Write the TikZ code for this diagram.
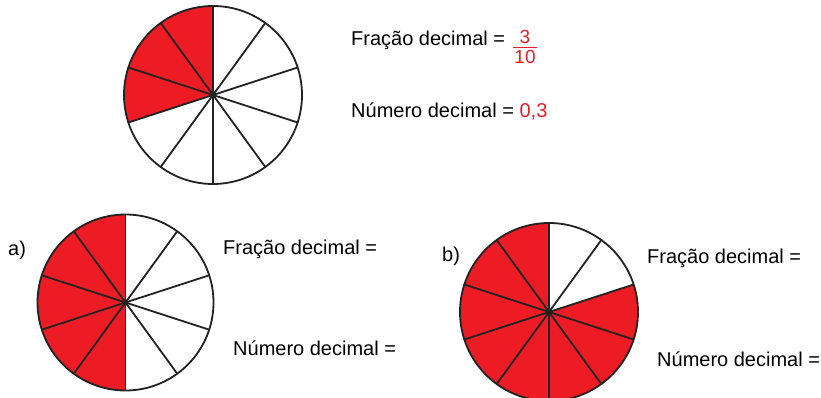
\documentclass[tikz,border=0pt]{standalone}
\usepackage{fontspec}
\setmainfont{Liberation Sans}
\usetikzlibrary{positioning}
\definecolor{fracred}{HTML}{ED1C24}
\definecolor{ink}{HTML}{222222}

\begin{document}
\begin{tikzpicture}[x=1pt, y=1pt, every node/.style={font=\fontsize{20}{24}\selectfont, inner sep=0pt},
  lbl/.style={anchor=base west}, val/.style={anchor=base, text=fracred, font=\fontsize{19}{22}\selectfont},
  rim/.style={draw=ink, line width=1.8pt, line join=round}, hub/.style={fill=ink}]
\useasboundingbox (0,0) rectangle (821,398);
% centres of the three discs
\coordinate (ctop) at (213,303);
\coordinate (ca) at (125.5,95.5);
\coordinate (cb) at (549,86);
% red parts
\fill[fracred] (ctop) -- ++(90:89) arc[start angle=90, end angle=198, radius=89] -- cycle;
\fill[fracred] (ca) -- ++(90:88) arc[start angle=90, end angle=270, radius=88] -- cycle;
\fill[fracred] (cb) -- ++(90:89) arc[start angle=90, end angle=378, radius=89] -- cycle;
% spokes and rims
\foreach \c/\r in {ctop/89, ca/88, cb/89} {
  \foreach \k in {0,...,9}
    \draw[rim] (\c) -- ++(90+36*\k:\r);
  \draw[rim] (\c) circle[radius=\r];
  \fill[hub] (\c) circle[radius=3];
}
% texts
\node[lbl] (fractop) at (351,352) {Fração decimal =};
\node[val] (num) at (525,354) {3};
\node[val] (den) at (525,334) {10};
\draw[fracred, line width=1pt] ([xshift=-1.5pt, yshift=16pt]den.base west) -- ([xshift=1.5pt, yshift=16pt]den.base east);
\node[lbl] (numtop) at (351,280) {Número decimal = \textcolor{fracred}{0,3}};
\node[lbl] (itema) at (8,142) {a)};
\node[lbl] (fraca) at (223,143) {Fração decimal =};
\node[lbl] (numa) at (233,42) {Número decimal =};
\node[lbl] (itemb) at (442,136) {b)};
\node[lbl] (fracb) at (647,134) {Fração decimal =};
\node[lbl] (numb) at (657,31) {Número decimal =};
\end{tikzpicture}
\end{document}
